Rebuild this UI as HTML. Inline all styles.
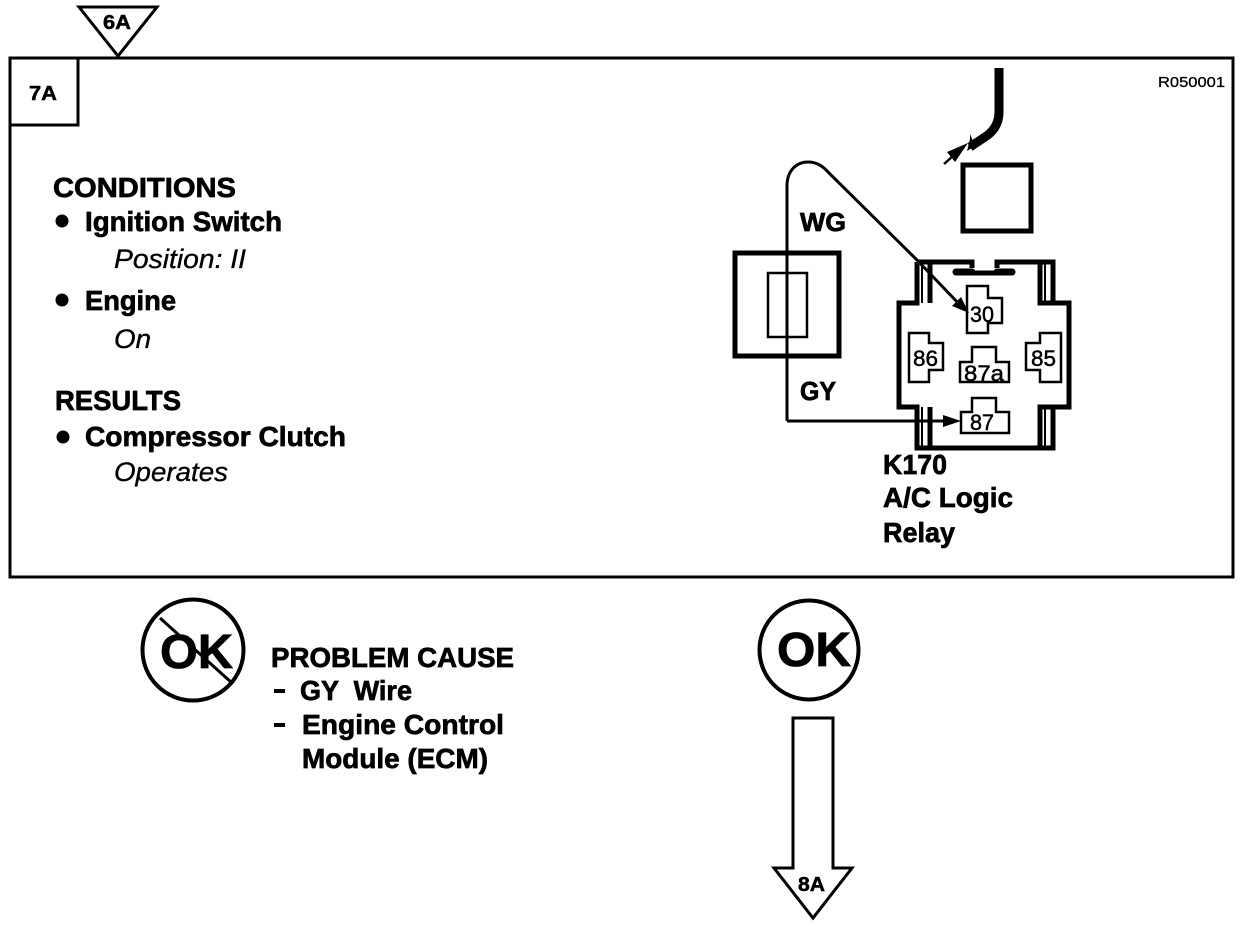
<!DOCTYPE html>
<html>
<head>
<meta charset="utf-8">
<style>
html,body{margin:0;padding:0;background:#fff}
svg{display:block}
text{font-family:"Liberation Sans",sans-serif;fill:#000}
.b{font-weight:bold;font-size:28px;stroke:#000;stroke-width:.7px}
.i{font-style:italic;font-size:27px;stroke:#000;stroke-width:.35px}
.n{font-size:22px;stroke:#000;stroke-width:.5px}
.s{font-weight:bold;font-size:20px;stroke:#000;stroke-width:.5px}
.l{fill:none;stroke:#000;stroke-linejoin:miter}
</style>
</head>
<body>
<svg width="1248" height="926" viewBox="0 0 1248 926" xmlns="http://www.w3.org/2000/svg">
<rect width="1248" height="926" fill="#fff"/>

<!-- Main frame -->
<rect class="l" x="10" y="58" width="1223" height="519" stroke-width="3"/>
<rect class="l" x="10" y="58" width="68" height="67" stroke-width="3"/>
<polygon class="l" points="79,7 157,7 118,56" stroke-width="3"/>
<text class="s" x="103" y="29" textLength="28" lengthAdjust="spacingAndGlyphs">6A</text>
<text class="s" x="29" y="100" textLength="28" lengthAdjust="spacingAndGlyphs">7A</text>
<text x="1158" y="87" font-size="15" textLength="67" lengthAdjust="spacingAndGlyphs" style="stroke:#000;stroke-width:.3px">R050001</text>

<!-- Left text -->
<text class="b" x="53" y="197" textLength="183" lengthAdjust="spacingAndGlyphs">CONDITIONS</text>
<circle cx="62" cy="221" r="6.5"/>
<text class="b" x="85" y="231" textLength="197" lengthAdjust="spacingAndGlyphs">Ignition Switch</text>
<text class="i" x="114" y="268" textLength="132" lengthAdjust="spacingAndGlyphs">Position: II</text>
<circle cx="62" cy="300" r="6.5"/>
<text class="b" x="85" y="310" textLength="91" lengthAdjust="spacingAndGlyphs">Engine</text>
<text class="i" x="114" y="348" textLength="37" lengthAdjust="spacingAndGlyphs">On</text>
<text class="b" x="55" y="410" textLength="126" lengthAdjust="spacingAndGlyphs">RESULTS</text>
<circle cx="63" cy="437" r="6.5"/>
<text class="b" x="85" y="446" textLength="261" lengthAdjust="spacingAndGlyphs">Compressor Clutch</text>
<text class="i" x="114" y="481" textLength="114" lengthAdjust="spacingAndGlyphs">Operates</text>

<!-- Cable and small arrow -->
<path class="l" d="M999,68 V112 Q999,128 985,137 L970,147" stroke-width="9"/>
<polygon points="970,134 975,146 967,151 970,139"/>
<path class="l" d="M944,164 L962,148" stroke-width="2.5"/>
<polygon points="968,143 947,152 955,162"/>
<rect class="l" x="963" y="165" width="68" height="66" stroke-width="5"/>

<!-- Fuse -->
<rect class="l" x="735" y="253" width="104" height="103" stroke-width="5"/>
<rect class="l" x="768" y="273" width="39" height="64" stroke-width="2.5"/>

<!-- Relay body -->
<path class="l" stroke-width="5" d="M917,262 H972 V268 M997,268 V262 H1053 V303 M917,262 V303 H899 V407 H917 V448 H1053 V407 M930,262 V303 M1040,262 V303 H1069 V407 H1040 V448 M1053,407 H1040 M930,407 V448"/>
<path class="l" stroke-width="2" d="M922,264 V303 M1045,264 V303 M922,407 V446 M1045,407 V446"/>
<path stroke="#000" stroke-width="7" fill="none" stroke-linecap="round" d="M956,272 H972 M997,272 H1012"/>
<path class="l" stroke-width="5" d="M972,273 H997"/>

<!-- Wires -->
<path class="l" stroke-width="3" d="M787,421 V186 C787,170 797,162 808,162 C816,162 822,165 830,174 L917,260 L960,305"/>
<polygon points="969,313 952,306 961,297"/>
<path class="l" stroke-width="3" d="M787,421 H950"/>
<polygon points="961,421 943,415 943,427"/>

<!-- Connectors -->
<g class="l" stroke-width="2.5">
<polygon points="967,286 988,286 988,298 1002,298 1002,323 988,323 988,333 967,333"/>
<polygon points="909,333 929,333 929,343 943,343 943,370 929,370 929,382 909,382"/>
<polygon points="1061,333 1040,333 1040,343 1026,343 1026,370 1040,370 1040,382 1061,382"/>
<polygon points="972,347 996,347 996,362 1009,362 1009,382 960,382 960,362 972,362"/>
<polygon points="972,398 996,398 996,412 1009,412 1009,433 961,433 961,412 972,412"/>
</g>
<text class="n" x="970" y="322" textLength="24" lengthAdjust="spacingAndGlyphs">30</text>
<text class="n" x="913" y="366" textLength="25" lengthAdjust="spacingAndGlyphs">86</text>
<text class="n" x="1031" y="366" textLength="25" lengthAdjust="spacingAndGlyphs">85</text>
<text class="n" x="964" y="381" textLength="40" lengthAdjust="spacingAndGlyphs">87a</text>
<text class="n" x="970" y="430" textLength="24" lengthAdjust="spacingAndGlyphs">87</text>

<text class="b" x="800" y="231" textLength="46" lengthAdjust="spacingAndGlyphs" style="font-size:26px">WG</text>
<text class="b" x="800" y="400" textLength="36" lengthAdjust="spacingAndGlyphs" style="font-size:26px">GY</text>

<text class="b" x="883" y="474" textLength="64" lengthAdjust="spacingAndGlyphs">K170</text>
<text class="b" x="883" y="507" textLength="130" lengthAdjust="spacingAndGlyphs">A/C Logic</text>
<text class="b" x="883" y="542" textLength="72" lengthAdjust="spacingAndGlyphs">Relay</text>

<!-- Not OK -->
<circle class="l" cx="193" cy="650" r="50.5" stroke-width="4"/>
<text x="160" y="668" font-weight="bold" font-size="48" textLength="73" lengthAdjust="spacingAndGlyphs" style="stroke:#000;stroke-width:.8px">OK</text>
<path class="l" d="M160,618 L232,683" stroke-width="3"/>

<text class="b" x="271" y="667" textLength="243" lengthAdjust="spacingAndGlyphs">PROBLEM CAUSE</text>
<rect x="274" y="689" width="11" height="4"/>
<text class="b" x="300" y="700" textLength="112" lengthAdjust="spacingAndGlyphs" xml:space="preserve">GY  Wire</text>
<rect x="274" y="723" width="11" height="4"/>
<text class="b" x="302" y="734" textLength="202" lengthAdjust="spacingAndGlyphs">Engine Control</text>
<text class="b" x="302" y="768" textLength="186" lengthAdjust="spacingAndGlyphs">Module (ECM)</text>

<!-- OK -->
<circle class="l" cx="809" cy="650" r="49.5" stroke-width="4"/>
<text x="777" y="666" font-weight="bold" font-size="48" textLength="74" lengthAdjust="spacingAndGlyphs" style="stroke:#000;stroke-width:.8px">OK</text>

<!-- Down arrow -->
<polygon class="l" stroke-width="3" points="793,718 833,718 833,868 852,868 813,918 774,868 793,868"/>
<text class="s" x="798" y="891" textLength="27" lengthAdjust="spacingAndGlyphs">8A</text>
</svg>
</body>
</html>
